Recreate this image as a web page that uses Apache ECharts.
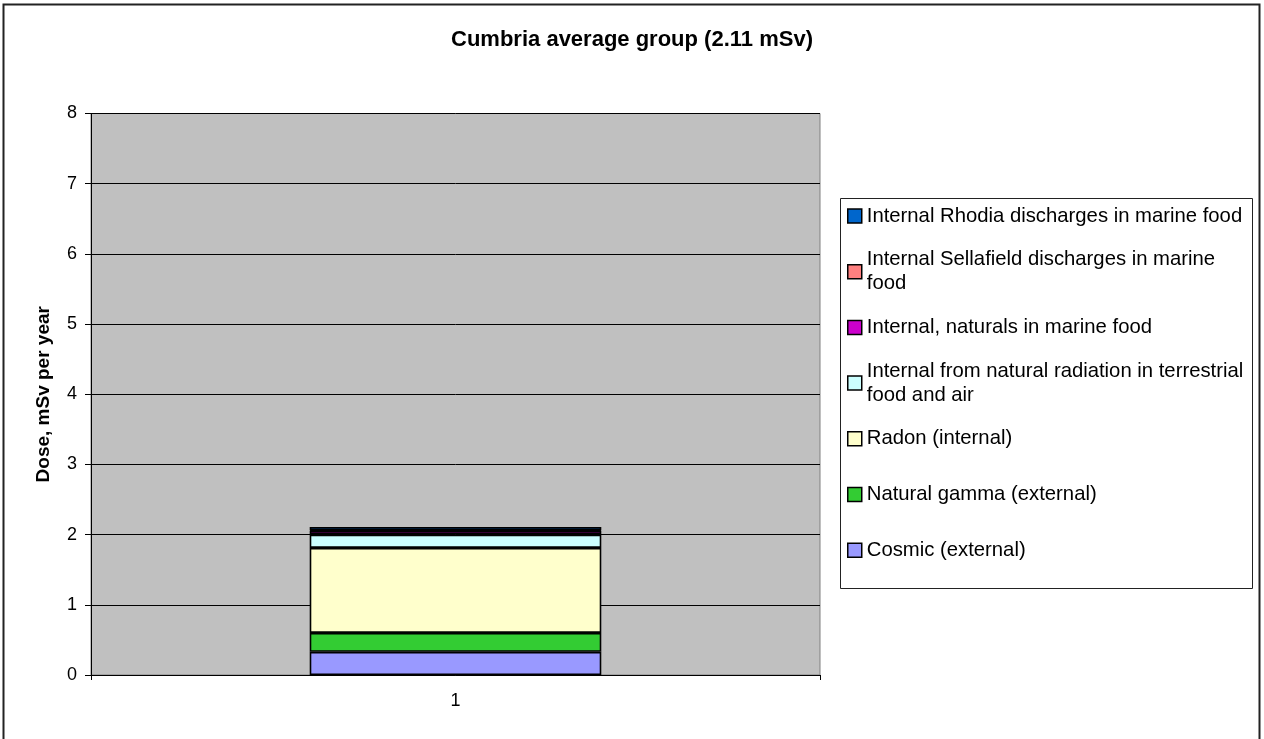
<!DOCTYPE html>
<html>
<head>
<meta charset="utf-8">
<title>Cumbria average group (2.11 mSv)</title>
<script src="https://cdn.jsdelivr.net/npm/echarts@6/dist/echarts.min.js"></script>
<style>
  html, body { margin: 0; padding: 0; background: #fff; }
  #chart { width: 1264px; height: 739px; }
</style>
</head>
<body>
<div id="chart"></div>
<script>
// Dose components for the Cumbria average group, mSv per year (stacked from the bottom)
const categories = ['1'];
const seriesNames = [
  'Cosmic (external)',
  'Natural gamma (external)',
  'Radon (internal)',
  'Internal from natural radiation in terrestrial\nfood and air',
  'Internal, naturals in marine food',
  'Internal Sellafield discharges in marine\nfood',
  'Internal Rhodia discharges in marine food'
];
const seriesValues = [
  [0.33],
  [0.27],
  [1.21],
  [0.19],
  [0.05],
  [0.01],
  [0.05]
];
const seriesColors = ['#9999FF', '#33CC33', '#FFFFCC', '#CCFFFF', '#CC00CC', '#FF8080', '#0066CC'];
const yTicks = [0, 1, 2, 3, 4, 5, 6, 7, 8];

const chart = echarts.init(document.getElementById('chart'), null, { renderer: 'canvas' });

const font = 'Arial, "Liberation Sans", Helvetica, sans-serif';

const series = seriesNames.map((name, i) => ({
  name: name,
  type: 'bar',
  stack: 'dose',
  barWidth: '40%',
  data: seriesValues[i],
  itemStyle: { color: seriesColors[i], borderColor: '#000', borderWidth: 1.6 },
  emphasis: { disabled: true }
}));

// Legend lists the top of the stack first, one block per entry
const legendTop = 204;
const legendStep = 55.7;
const legendOrder = seriesNames.slice().reverse();
const legends = legendOrder.map((name, k) => {
  const twoLines = name.indexOf('\n') >= 0;
  return {
    data: [name],
    left: 847,
    top: legendTop + k * legendStep - (twoLines ? 24 : 0),
    padding: 0,
    itemWidth: 14,
    itemHeight: 14,
    itemGap: 0,
    icon: 'rect',
    selectedMode: false,
    itemStyle: { borderColor: '#000', borderWidth: 1.5 },
    textStyle: {
      fontFamily: font,
      fontSize: 20.3,
      lineHeight: 24,
      color: '#000',
      padding: twoLines ? [24, 0, 0, 0] : 0
    }
  };
});

const option = {
  animation: false,
  backgroundColor: '#fff',
  title: {
    text: 'Cumbria average group (2.11 mSv)',
    left: 'center',
    top: 29,
    padding: 0,
    textStyle: { fontFamily: font, fontSize: 22, fontWeight: 'bold', color: '#000' }
  },
  legend: legends,
  grid: {
    left: 91,
    right: 444,
    top: 113.5,
    bottom: 64,
    show: true,
    backgroundColor: '#C0C0C0',
    borderColor: '#808080',
    borderWidth: 1
  },
  xAxis: {
    type: 'category',
    data: categories,
    axisLine: { show: true, lineStyle: { color: '#000', width: 1 } },
    axisTick: { show: true, length: 5, lineStyle: { color: '#000' } },
    axisLabel: { fontFamily: font, fontSize: 18, color: '#000', margin: 17 },
    splitLine: { show: false }
  },
  yAxis: {
    type: 'value',
    min: yTicks[0],
    max: yTicks[yTicks.length - 1],
    interval: 1,
    name: 'Dose, mSv per year',
    nameLocation: 'middle',
    nameGap: 38,
    nameTextStyle: { fontFamily: font, fontSize: 19, fontWeight: 'bold', color: '#000' },
    axisLine: { show: true, lineStyle: { color: '#000', width: 1 } },
    axisTick: { show: true, length: 6, lineStyle: { color: '#000' } },
    axisLabel: { fontFamily: font, fontSize: 18, color: '#000', margin: 14 },
    splitLine: { show: true, lineStyle: { color: '#000', width: 1 } }
  },
  graphic: [
    {
      // legend frame
      type: 'rect',
      shape: { x: 840.5, y: 198.5, width: 412, height: 390 },
      style: { fill: 'none', stroke: '#222', lineWidth: 1 },
      silent: true,
      z: 100
    },
    {
      // chart area frame
      type: 'rect',
      shape: { x: 3.5, y: 4.5, width: 1256, height: 745 },
      style: { fill: 'none', stroke: '#222', lineWidth: 2 },
      silent: true,
      z: 100
    }
  ],
  series: series
};

chart.setOption(option);
</script>
</body>
</html>
